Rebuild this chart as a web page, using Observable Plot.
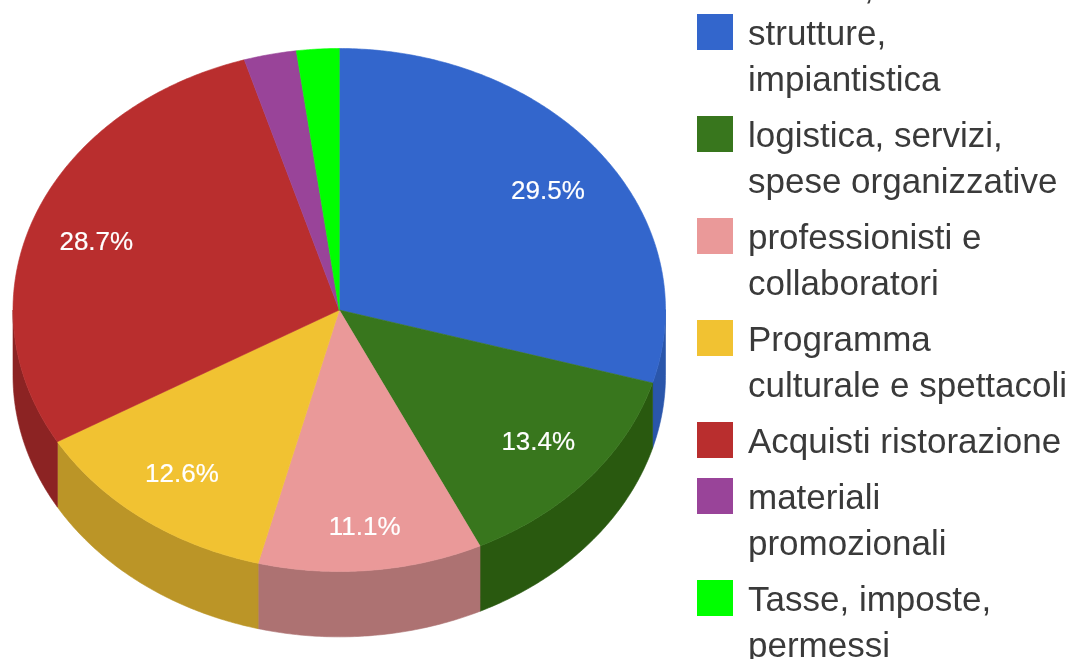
<!DOCTYPE html>
<html>
<head>
<meta charset="utf-8">
<script src="https://cdn.jsdelivr.net/npm/d3@7"></script>
<script src="https://cdn.jsdelivr.net/npm/@observablehq/plot@0.6"></script>
<style>
html,body{margin:0;padding:0;background:#fff;width:1071px;height:659px;overflow:hidden}
#wrap{position:relative;width:1071px;height:659px;overflow:hidden;filter:blur(0.7px)}
#wrap svg{position:absolute;left:0;top:0}
#legend{position:absolute;left:697px;top:10px;font-family:"Liberation Sans",Arial,sans-serif;font-size:35px;line-height:46px;color:#3a3a3a}
.item{display:flex;margin-bottom:10px}
.swatch{width:36px;height:36px;margin-top:4px;margin-right:15px;flex:none}
.label{white-space:pre-line}
#frag{position:absolute;left:864px;top:-36px;font-family:"Liberation Sans",Arial,sans-serif;font-size:35px;line-height:46px;color:#3a3a3a}
</style>
</head>
<body>
<div id="wrap"></div>
<script>
const categories = [
  "strutture,\nimpiantistica",
  "logistica, servizi,\nspese organizzative",
  "professionisti e\ncollaboratori",
  "Programma\nculturale e spettacoli",
  "Acquisti ristorazione",
  "materiali\npromozionali",
  "Tasse, imposte,\npermessi"
];
const values = [29.5, 13.4, 11.1, 12.6, 28.7, 2.6, 2.1];
const valueLabels = ["29.5%", "13.4%", "11.1%", "12.6%", "28.7%", "", ""];
const topColors = ["#3366cc", "#38761d", "#ea9999", "#f1c232", "#b92e2e", "#994499", "#00ff00"];
const wallColors = ["#2a56ab", "#29590f", "#ad7272", "#bb9527", "#8c2323", "#723372", "#00bf00"];

const total = d3.sum(values);
const depth = 0.25;
const labelRadiusX = 0.8;
const labelRadiusY = [0.78, 0.76, 0.82, 0.77, 0.75, 0, 0];
const toA = p => (p / total) * 2 * Math.PI;
let acc = 0;
const slices = values.map((v, i) => {
  const s = {i, start: toA(acc), end: toA(acc + v)};
  acc += v;
  return s;
});
const pt = (a, r = 1, dy = 0) => ({x: r * Math.sin(a), y: r * Math.cos(a) - dy});
function arc(a0, a1) {
  const n = Math.max(2, Math.ceil((a1 - a0) / 0.01));
  return d3.range(n + 1).map(k => a0 + (a1 - a0) * k / n);
}
const wallPts = [], topPts = [];
const q1 = Math.PI / 2, q3 = 3 * Math.PI / 2;
// walls: only the front half of the rim is seen
slices.forEach(s => {
  const a0 = Math.max(s.start, q1), a1 = Math.min(s.end, q3);
  if (a1 <= a0) return;
  const as = arc(a0, a1);
  const ring = [...as.map(a => pt(a)), ...as.slice().reverse().map(a => pt(a, 1, depth))];
  ring.push(ring[0]);
  ring.forEach(p => wallPts.push({...p, id: s.i, color: wallColors[s.i]}));
});
slices.forEach(s => {
  const ring = [{x: 0, y: 0}, ...arc(s.start, s.end).map(a => pt(a)), {x: 0, y: 0}];
  ring.forEach(p => topPts.push({...p, id: s.i, color: topColors[s.i]}));
});
const labelPts = slices.filter(s => valueLabels[s.i]).map(s => {
  const a = (s.start + s.end) / 2;
  return {x: labelRadiusX * Math.sin(a), y: labelRadiusY[s.i] * Math.cos(a), text: valueLabels[s.i]};
});

const chart = Plot.plot({
  width: 680, height: 659,
  margin: 0,
  style: {background: "transparent", overflow: "hidden"},
  x: {domain: [-1, 1], range: [12.5, 665], axis: null},
  y: {domain: [1, -1], range: [48, 571], axis: null},
  color: {type: "identity"},
  marks: [
    Plot.line(wallPts, {x: "x", y: "y", z: "id", fill: "color", stroke: "color", strokeWidth: 0.6}),
    Plot.line(topPts, {x: "x", y: "y", z: "id", fill: "color", stroke: "color", strokeWidth: 0.6}),
    Plot.text(labelPts, {x: "x", y: "y", text: "text", fill: "#fff", fontSize: 26, dy: 3,
      fontFamily: "Liberation Sans, Arial, sans-serif", stroke: "#fff", strokeWidth: 0.2})
  ]
});
const wrap = document.getElementById("wrap");
wrap.appendChild(chart);

const frag = document.createElement("div");
frag.id = "frag";
frag.textContent = ",";
wrap.appendChild(frag);

const legend = document.createElement("div");
legend.id = "legend";
categories.forEach((c, i) => {
  const item = document.createElement("div");
  item.className = "item";
  const sw = document.createElement("div");
  sw.className = "swatch";
  sw.style.background = topColors[i];
  const lab = document.createElement("div");
  lab.className = "label";
  lab.textContent = c;
  item.append(sw, lab);
  legend.appendChild(item);
});
wrap.appendChild(legend);
</script>
</body>
</html>
